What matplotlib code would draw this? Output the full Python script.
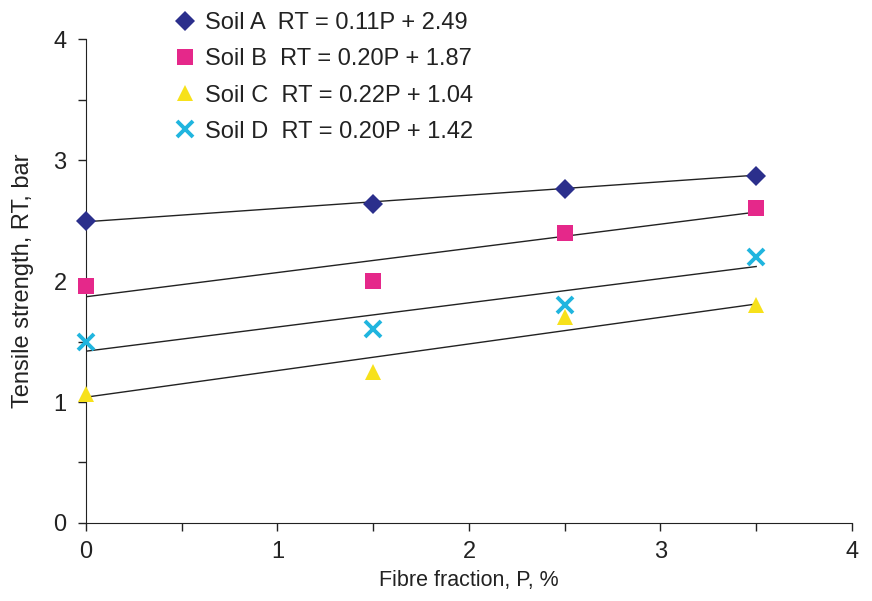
import matplotlib
matplotlib.use("Agg")
import matplotlib.pyplot as plt
import numpy as np
from matplotlib.ticker import MultipleLocator

plt.rcParams['font.family'] = ['Liberation Sans', 'DejaVu Sans']

fibre = [0, 1.5, 2.5, 3.5]
soil_a = [2.50, 2.64, 2.76, 2.87]
soil_b = [1.96, 2.00, 2.40, 2.60]
soil_c = [1.07, 1.25, 1.70, 1.80]
soil_d = [1.50, 1.60, 1.80, 2.20]
slopes = [0.11, 0.20, 0.22, 0.20]
intercepts = [2.49, 1.87, 1.04, 1.42]
names = ["Soil A", "Soil B", "Soil C", "Soil D"]

series = [soil_a, soil_b, soil_c, soil_d]
colors = ["#2B2F8C", "#E5288A", "#F7E11B", "#20B5DF"]
markers = ["D", "s", "^", "x"]
sizes = [10, 11, 12, 11]

fig = plt.figure(figsize=(8.72, 6.01), dpi=100)
ax = fig.add_axes([0.0986, 0.1298, 0.8784, 0.8052])

xl = np.array([fibre[0], fibre[-1]])
for s, b in zip(slopes, intercepts):
    ax.plot(xl, s * xl + b, color="#222222", lw=1.0, zorder=2)

handles = []
for name, ys, c, m, ms, s, b in zip(names, series, colors, markers, sizes, slopes, intercepts):
    kw = dict(markeredgewidth=2.8) if m == "x" else dict(markeredgewidth=0)
    h, = ax.plot(fibre, ys, linestyle="none", marker=m, color=c, markersize=ms,
                 clip_on=False, zorder=3, **kw,
                 label=f"{name}  RT = {s:.2f}P + {b:.2f}")
    handles.append(h)

ax.set_xlim(0, 4)
ax.set_ylim(0, 4)
ax.xaxis.set_major_locator(MultipleLocator(1))
ax.yaxis.set_major_locator(MultipleLocator(1))
ax.xaxis.set_minor_locator(MultipleLocator(0.5))
ax.yaxis.set_minor_locator(MultipleLocator(0.5))
ax.tick_params(which="both", direction="out", length=6, width=1, colors="#222222",
               labelsize=17, labelcolor="#222222")
ax.tick_params(axis="x", pad=7)
ax.tick_params(axis="y", pad=8)
ax.spines["top"].set_visible(False)
ax.spines["right"].set_visible(False)
for sp in ["left", "bottom"]:
    ax.spines[sp].set_color("#222222")
ax.set_xlabel("Fibre fraction, P, %", fontsize=15.5, color="#222222", labelpad=5)
ax.set_ylabel("Tensile strength, RT, bar", fontsize=17, color="#222222", labelpad=14)

fig.legend(handles=handles, loc="upper left", bbox_to_anchor=(0.1745, 1.015),
           frameon=False, fontsize=17, handlelength=1.0, handletextpad=0.35,
           labelspacing=0.6, labelcolor="#222222")

fig.savefig("out.png", dpi=100)
